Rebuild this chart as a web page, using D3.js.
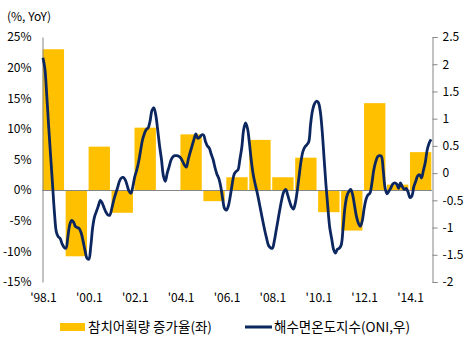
<!DOCTYPE html>
<html>
<head>
<meta charset="utf-8">
<script src="https://cdn.jsdelivr.net/npm/d3@7/dist/d3.min.js"></script>
<style>
  html, body { margin: 0; padding: 0; background: #fff; }
  svg text { font-family: "Noto Sans CJK KR", "Noto Sans", sans-serif; fill: #000; }
</style>
</head>
<body>
<svg id="chart" width="474" height="342"></svg>
<script>
// Annual tuna catch growth (%, YoY), left axis
const years = [1998, 1999, 2000, 2001, 2002, 2003, 2004, 2005, 2006, 2007, 2008, 2009, 2010, 2011, 2012, 2013, 2014];
const catchGrowth = [23, -10.8, 7.1, -3.7, 10.2, 0, 9.1, -1.8, 2.1, 8.2, 2.1, 5.3, -3.6, -6.6, 14.2, 0.9, 6.2];

// Monthly Oceanic Nino Index, Jan 1998 - Dec 2014, right axis
const oni = [
  2.12, 1.92, 1.42, 0.85, 0.32, -0.2, -0.72, -1.08, -1.17, -1.2, -1.3, -1.36,
  -1.38, -1.18, -0.95, -0.87, -0.9, -0.98, -1.0, -1.02, -1.1, -1.25, -1.42, -1.56,
  -1.58, -1.35, -1.0, -0.8, -0.7, -0.6, -0.5, -0.55, -0.64, -0.72, -0.77, -0.77,
  -0.65, -0.5, -0.38, -0.27, -0.15, -0.09, -0.08, -0.12, -0.22, -0.33, -0.37, -0.25,
  -0.07, 0.05, 0.2, 0.4, 0.6, 0.72, 0.8, 0.83, 0.95, 1.15, 1.2, 1.07,
  0.8, 0.5, 0.25, -0.05, -0.15, 0.0, 0.12, 0.24, 0.3, 0.32, 0.32, 0.31,
  0.28, 0.22, 0.15, 0.11, 0.25, 0.38, 0.5, 0.62, 0.72, 0.64, 0.66, 0.7,
  0.7, 0.58, 0.5, 0.46, 0.35, 0.25, 0.1, -0.02, -0.1, -0.25, -0.47, -0.65,
  -0.68, -0.6, -0.42, -0.2, -0.02, 0.03, 0.06, 0.25, 0.47, 0.8, 0.92, 0.82,
  0.55, 0.22, -0.03, -0.2, -0.35, -0.52, -0.7, -0.88, -1.05, -1.2, -1.33, -1.37,
  -1.38, -1.25, -1.05, -0.85, -0.65, -0.47, -0.34, -0.3, -0.4, -0.52, -0.62, -0.66,
  -0.55, -0.33, -0.05, 0.22, 0.4, 0.48, 0.52, 0.57, 0.9, 1.15, 1.27, 1.32,
  1.3, 1.15, 0.8, 0.3, -0.2, -0.62, -1.0, -1.2, -1.4, -1.47, -1.4, -1.38,
  -1.32, -1.0, -0.62, -0.42, -0.34, -0.3, -0.4, -0.6, -0.8, -0.92, -0.98, -0.88,
  -0.65, -0.48, -0.4, -0.37, -0.2, 0.05, 0.2, 0.3, 0.32, 0.31, 0.05, -0.28,
  -0.38, -0.33, -0.27, -0.2, -0.18, -0.2, -0.28, -0.18, -0.25, -0.3, -0.28, -0.35,
  -0.45, -0.42, -0.25, -0.15, -0.05, -0.03, -0.09, 0.05, 0.2, 0.43, 0.55, 0.62
];

// Axis ticks and labels
const leftTicks = [25, 20, 15, 10, 5, 0, -5, -10, -15];
const rightTicks = [2.5, 2, 1.5, 1, 0.5, 0, -0.5, -1, -1.5, -2];
const xLabelYears = [1998, 2000, 2002, 2004, 2006, 2008, 2010, 2012, 2014];
const xLabels = ["'98.1", "'00.1", "'02.1", "'04.1", "'06.1", "'08.1", "'10.1", "'12.1", "'14.1"];

const seriesNames = ["참치어획량 증가율(좌)", "해수면온도지수(ONI,우)"];
const unitLabel = "(%, YoY)";

const BAR = "#FFC000", LINE = "#0c2660", AXIS = "#868686";
const plot = { left: 42, right: 432, top: 37, bottom: 282 };
const FS = 12;

const svg = d3.select("#chart");

const xBand = d3.scaleBand().domain(years).range([plot.left, plot.right])
  .paddingInner(0.07).paddingOuter(0.03);
const xMonth = d3.scaleLinear().domain([0, oni.length]).range([plot.left, plot.right]);
const yLeft = d3.scaleLinear().domain([-15, 25]).range([plot.bottom, plot.top]);
const yRight = d3.scaleLinear().domain([-2, 2.5]).range([plot.bottom, plot.top]);

// Bars
svg.append("g").selectAll("rect").data(years).join("rect")
  .attr("x", (d) => xBand(d))
  .attr("width", xBand.bandwidth())
  .attr("y", (d, i) => yLeft(Math.max(0, catchGrowth[i])))
  .attr("height", (d, i) => Math.abs(yLeft(catchGrowth[i]) - yLeft(0)))
  .attr("fill", BAR);

// Zero line
svg.append("line")
  .attr("x1", plot.left).attr("x2", plot.right)
  .attr("y1", Math.round(yLeft(0)) + 0.5).attr("y2", Math.round(yLeft(0)) + 0.5)
  .attr("stroke", AXIS).attr("stroke-width", 1);

// Left axis
const gl = svg.append("g").attr("transform", `translate(${plot.left + 0.5},0)`)
  .call(d3.axisLeft(yLeft).tickValues(leftTicks).tickSize(0).tickPadding(11)
    .tickFormat((d) => d + "%"));
gl.select(".domain").attr("stroke", AXIS);
gl.selectAll("text").attr("font-size", FS).attr("font-family", "'Noto Sans CJK KR', sans-serif");

// Right axis
const gr = svg.append("g").attr("transform", `translate(${plot.right + 0.5},0)`)
  .call(d3.axisRight(yRight).tickValues(rightTicks).tickSize(5).tickSizeOuter(5).tickPadding(5)
    .tickFormat((d) => String(d)));
gr.select(".domain").attr("stroke", AXIS);
gr.selectAll(".tick line").attr("stroke", AXIS);
gr.selectAll("text").attr("font-size", FS).attr("font-family", "'Noto Sans CJK KR', sans-serif");

// Bottom category labels
const gx = svg.append("g").attr("transform", `translate(0,${plot.bottom + 8})`)
  .call(d3.axisBottom(xMonth)
    .tickValues(xLabelYears.map((y) => (y - years[0]) * 12 + 0.5))
    .tickFormat((d, i) => xLabels[i]).tickSize(0).tickPadding(3));
gx.select(".domain").remove();
gx.selectAll("text").attr("font-size", FS).attr("font-family", "'Noto Sans CJK KR', sans-serif");

// ONI line
const line = d3.line()
  .x((d, i) => xMonth(i + 0.5))
  .y((d) => yRight(d))
  .curve(d3.curveCatmullRom.alpha(0.5));
svg.append("path").datum(oni)
  .attr("d", line)
  .attr("fill", "none")
  .attr("stroke", LINE)
  .attr("stroke-width", 2.8)
  .attr("stroke-linejoin", "round");

// Unit label
svg.append("text").attr("x", 7).attr("y", 21).attr("font-size", FS).text(unitLabel);

// Legend
const lg = svg.append("g");
lg.append("rect").attr("x", 60).attr("y", 323).attr("width", 25).attr("height", 8).attr("fill", BAR);
lg.append("text").attr("x", 88).attr("y", 332).attr("font-size", 13.5).text(seriesNames[0]);
lg.append("line").attr("x1", 245).attr("x2", 272).attr("y1", 327).attr("y2", 327)
  .attr("stroke", LINE).attr("stroke-width", 3);
lg.append("text").attr("x", 274).attr("y", 332).attr("font-size", 13.5).text(seriesNames[1]);
</script>
</body>
</html>
